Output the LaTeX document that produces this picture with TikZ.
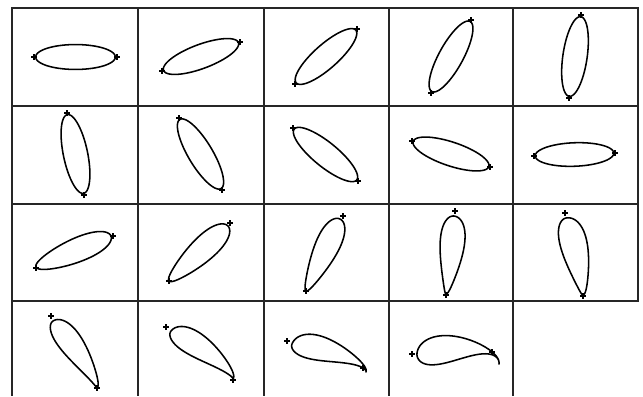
\documentclass[tikz,border=0pt]{standalone}
\tikzset{
  shapeline/.style={line width=1.1pt, line join=round},
  gridline/.style={line width=0.8pt, black!85},
  plusline/.style={line width=0.75pt},
}
% #1,#2 leading end  #3,#4 trailing end  #5 scale  #6 thickness  #7 taper  #8 camber  #9 aft camber
\newcommand\foil[9]{%
  \pgfmathsetmacro\fMx{(#1+#3)/2}%
  \pgfmathsetmacro\fMy{(#2+#4)/2}%
  \pgfmathsetmacro\fDx{(#3-#1)/2}%
  \pgfmathsetmacro\fDy{(#4-#2)/2}%
  \draw[shapeline] plot[domain=0:355,samples=72,smooth cycle,variable=\t]
   ({\fMx+#5*cos(\t)*(\fDx)+(#6*sin(\t)*(1-#7*cos(\t))+#8*abs(sin(\t))*(1+#9*cos(\t)))*(\fDy)},
    {\fMy+#5*cos(\t)*(\fDy)-(#6*sin(\t)*(1-#7*cos(\t))+#8*abs(sin(\t))*(1+#9*cos(\t)))*(\fDx)});%
}
\newcommand\pmark[2]{\draw[plusline] (#1-3,#2)--(#1+3,#2) (#1,#2-3)--(#1,#2+3);}
\begin{document}
\begin{tikzpicture}[x=0.025cm,y=-0.025cm]
\useasboundingbox (0,0) rectangle (643,396);
\fill[white] (0,0) rectangle (643,396);
% grid
\draw[gridline] (12,8) rectangle (638,301);
\draw[gridline] (12,106) -- (638,106) (12,204) -- (638,204);
\draw[gridline] (138,8) -- (138,396) (264,8) -- (264,396) (389,8) -- (389,396) (513,8) -- (513,396) (12,301) -- (12,396);
% row 1
\foil{34}{57}{117}{57}{0.96}{0.30}{0}{0}{0}
\pmark{34}{57}\pmark{117}{57}
\foil{162}{71}{240}{42}{0.96}{0.29}{0}{0}{0}
\pmark{162}{71}\pmark{240}{42}
\foil{295}{84}{357}{29}{0.96}{0.29}{0}{0}{0}
\pmark{295}{84}\pmark{357}{29}
\foil{431}{93}{471}{20}{0.96}{0.29}{0}{0}{0}
\pmark{431}{93}\pmark{471}{20}
\foil{569}{98}{581}{15}{0.96}{0.29}{0}{0}{0}
\pmark{569}{98}\pmark{581}{15}
% row 2
\foil{67}{113}{84}{195}{0.96}{0.29}{0}{0}{0}
\pmark{67}{113}\pmark{84}{195}
\foil{179}{118}{222}{190}{0.96}{0.29}{0}{0}{0}
\pmark{179}{118}\pmark{222}{190}
\foil{293}{128}{358}{181}{0.96}{0.29}{0}{0}{0}
\pmark{293}{128}\pmark{358}{181}
\foil{412}{141}{490}{167}{0.97}{0.29}{0}{0}{0}
\pmark{412}{141}\pmark{490}{167}
\foil{534}{156}{615}{153}{0.97}{0.29}{0}{0}{0}
\pmark{534}{156}\pmark{615}{153}
% row 3
\foil{111}{236}{36}{267}{1}{0.29}{0.2}{0}{0}
\pmark{113}{236}\pmark{36}{268}
\foil{228}{226}{169}{281}{1}{0.29}{0.32}{0}{0}
\pmark{230}{223}\pmark{169}{281}
\foil{340}{219}{306}{291}{1}{0.28}{0.45}{0}{0}
\pmark{343}{216}\pmark{306}{291}
\foil{454}{216}{446}{294}{1}{0.28}{0.55}{0.03}{0}
\pmark{455}{211}\pmark{446}{295}
\foil{566}{218}{583}{295}{1}{0.31}{0.5}{0.05}{0}
\pmark{565}{213}\pmark{583}{296}
% row 4
\foil{53}{321}{97}{388}{1}{0.26}{0.58}{0.08}{0.3}
\pmark{51}{316}\pmark{97}{388}
\foil{171}{331}{233}{379}{1}{0.27}{0.62}{0.13}{0.4}
\pmark{166}{327}\pmark{233}{380}
\foil{292}{344}{366}{372}{1}{0.26}{0.8}{0.17}{0.4}
\pmark{287}{341}\pmark{363}{368}
\foil{417}{353}{499}{364}{1}{0.27}{1.0}{0.245}{0.73}
\pmark{412}{354}\pmark{492}{352}
\end{tikzpicture}
\end{document}
